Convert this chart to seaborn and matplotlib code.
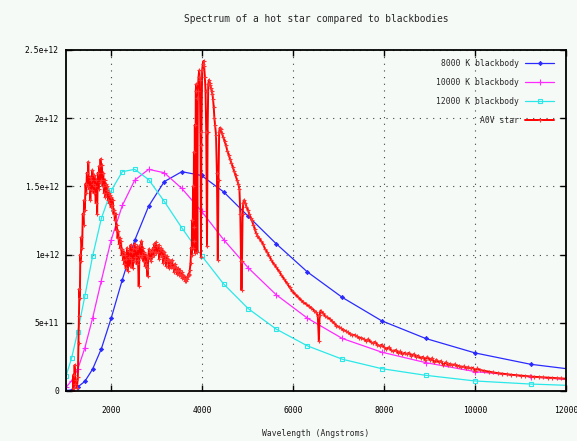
import numpy as np
import seaborn as sns
import matplotlib.pyplot as plt

# blackbody curves (sampled on a log grid), values in units of 1e12
bb_wave = [1000, 1122, 1259, 1413, 1585, 1778, 1995, 2239, 2512, 2818, 3162, 3548,
           3981, 4467, 5012, 5623, 6310, 7079, 7943, 8913, 10000, 11220, 12589]
bb_8000 = [0.002, 0.009, 0.03, 0.07, 0.16, 0.31, 0.535, 0.816, 1.105, 1.355, 1.535, 1.608,
           1.58, 1.46, 1.28, 1.08, 0.873, 0.686, 0.515, 0.385, 0.279, 0.196, 0.14]
bb_10000 = [0.027, 0.075, 0.16, 0.314, 0.534, 0.81, 1.11, 1.36, 1.546, 1.625, 1.60, 1.485,
            1.318, 1.11, 0.902, 0.706, 0.534, 0.385, 0.285, 0.208, 0.142, 0.105, 0.07]
bb_12000 = [0.11, 0.24, 0.436, 0.693, 0.988, 1.265, 1.47, 1.608, 1.625, 1.55, 1.39, 1.196,
            0.993, 0.785, 0.603, 0.454, 0.331, 0.233, 0.164, 0.115, 0.0735, 0.051, 0.035]

# A0V star spectrum, values in units of 1e12
star_wave = [1150, 1165, 1175, 1190, 1205, 1220, 1240, 1260, 1275, 1285, 1295, 1305, 1315, 1325,
             1340, 1355, 1370, 1385, 1400, 1415, 1430, 1445, 1460, 1475, 1490, 1505, 1520, 1535,
             1550, 1565, 1580, 1595, 1610, 1625, 1640, 1655, 1670, 1685, 1700, 1715, 1730, 1745,
             1760, 1775, 1790, 1805, 1820, 1835, 1850, 1865, 1880, 1895, 1910, 1925, 1940, 1955,
             1970, 1985, 2000, 2015, 2030, 2045, 2060, 2075, 2090, 2105, 2120, 2135, 2150, 2165,
             2180, 2195, 2210, 2225, 2240, 2255, 2270, 2285, 2300, 2315, 2330, 2345, 2360, 2375,
             2390, 2405, 2420, 2435, 2450, 2465, 2480, 2495, 2510, 2525, 2540, 2555, 2570, 2585,
             2600, 2615, 2630, 2645, 2660, 2675, 2690, 2705, 2720, 2735, 2750, 2765, 2780, 2795,
             2810, 2825, 2840, 2855, 2870, 2885, 2900, 2915, 2930, 2945, 2960, 2975, 2990, 3005,
             3020, 3035, 3050, 3065, 3080, 3095, 3110, 3125, 3140, 3155, 3170, 3185, 3200, 3215,
             3230, 3245, 3260, 3275, 3290, 3305, 3320, 3335, 3350, 3365, 3380, 3395, 3410, 3425,
             3440, 3455, 3470, 3485, 3500, 3515, 3530, 3545, 3560, 3575, 3590, 3605, 3620, 3635,
             3650, 3665, 3680, 3695, 3710, 3725, 3740, 3755, 3765, 3775, 3785, 3795, 3805, 3815,
             3825, 3835, 3845, 3855, 3865, 3875, 3889, 3900, 3915, 3930, 3945, 3960, 3970, 3980,
             3995, 4010, 4025, 4040, 4055, 4070, 4085, 4102, 4115, 4130, 4145, 4160, 4175, 4190,
             4205, 4220, 4235, 4250, 4265, 4280, 4300, 4320, 4340, 4355, 4370, 4385, 4400, 4430,
             4460, 4490, 4520, 4550, 4580, 4610, 4640, 4670, 4700, 4730, 4760, 4790, 4815, 4835,
             4850, 4861, 4872, 4885, 4900, 4920, 4945, 4970, 5000, 5030, 5060, 5090, 5120, 5150,
             5180, 5210, 5250, 5290, 5330, 5380, 5420, 5470, 5520, 5570, 5620, 5680, 5740, 5800,
             5860, 5920, 5980, 6040, 6100, 6160, 6220, 6280, 6340, 6400, 6460, 6500, 6540, 6563,
             6580, 6600, 6650, 6700, 6750, 6800, 6850, 6900, 6950, 7000, 7050, 7100, 7150, 7200,
             7250, 7300, 7350, 7400, 7450, 7500, 7550, 7600, 7650, 7700, 7750, 7800, 7850, 7900,
             7950, 8000, 8050, 8100, 8150, 8200, 8250, 8300, 8350, 8400, 8450, 8500, 8550, 8600,
             8650, 8700, 8750, 8800, 8850, 8900, 8950, 9000, 9050, 9100, 9150, 9200, 9250, 9300,
             9350, 9400, 9450, 9500, 9550, 9600, 9650, 9700, 9750, 9800, 9850, 9900, 9950, 10000,
             10050, 10100, 10200, 10300, 10400, 10500, 10600, 10700, 10800, 10900, 11000, 11100,
             11200, 11300, 11400, 11500, 11600, 11700, 11800, 11900, 12000]
star_flux = [0.0, 0.12, 0.02, 0.19, 0.05, 0.08, 0.02, 0.10, 0.35, 0.55, 0.75, 0.68, 1.00, 0.95,
             1.13, 1.05, 1.30, 1.22, 1.40, 1.33, 1.52, 1.45, 1.60, 1.50, 1.68, 1.48, 1.57, 1.40,
             1.55, 1.47, 1.62, 1.52, 1.45, 1.58, 1.50, 1.38, 1.55, 1.30, 1.60, 1.48, 1.65, 1.53,
             1.70, 1.55, 1.66, 1.50, 1.60, 1.45, 1.55, 1.42, 1.52, 1.47, 1.50, 1.40, 1.45, 1.38,
             1.44, 1.35, 1.42, 1.36, 1.40, 1.30, 1.33, 1.25, 1.30, 1.18, 1.22, 1.12, 1.17, 1.08,
             1.12, 1.05, 1.10, 1.00, 1.04, 0.96, 1.02, 0.93, 1.00, 0.90, 0.97, 1.05, 0.88, 0.98,
             1.03, 0.92, 1.07, 0.97, 1.02, 0.90, 1.05, 0.95, 1.08, 0.98, 1.04, 0.93, 1.06, 0.96,
             0.77, 1.00, 1.07, 0.98, 1.10, 1.00, 1.05, 0.95, 1.02, 0.92, 1.00, 0.93, 0.90, 0.84,
             0.98, 1.04, 0.97, 1.02, 0.95, 1.03, 0.98, 1.05, 1.00, 1.08, 1.02, 1.09, 1.01, 1.06,
             1.02, 1.07, 0.97, 1.04, 1.00, 1.05, 0.98, 1.03, 0.94, 1.02, 0.97, 1.00, 0.92, 0.99,
             0.95, 0.97, 0.90, 0.96, 0.93, 0.95, 0.91, 0.96, 0.90, 0.92, 0.87, 0.93, 0.89, 0.91,
             0.86, 0.90, 0.88, 0.85, 0.89, 0.86, 0.84, 0.87, 0.83, 0.85, 0.82, 0.84, 0.81, 0.83,
             0.81, 0.82, 0.84, 0.86, 0.85, 0.89, 0.94, 1.05, 1.00, 1.25, 1.05, 1.50, 1.10, 1.75,
             1.20, 1.95, 1.01, 2.20, 2.25, 2.15, 1.02, 2.20, 2.30, 2.35, 2.28, 1.80, 0.98, 1.90,
             2.35, 2.40, 2.42, 2.38, 2.30, 2.20, 1.90, 1.06, 1.90, 2.25, 2.28, 2.26, 2.24, 2.22,
             2.20, 2.18, 2.14, 2.08, 2.00, 1.95, 1.88, 1.60, 0.96, 1.55, 1.90, 1.93, 1.92, 1.89,
             1.86, 1.83, 1.80, 1.76, 1.73, 1.70, 1.67, 1.64, 1.61, 1.58, 1.55, 1.52, 1.48, 1.30,
             0.95, 0.74, 0.95, 1.30, 1.38, 1.40, 1.38, 1.35, 1.33, 1.30, 1.27, 1.25, 1.22, 1.19,
             1.16, 1.14, 1.12, 1.10, 1.08, 1.04, 1.02, 0.99, 0.96, 0.93, 0.91, 0.88, 0.85, 0.82,
             0.79, 0.76, 0.73, 0.71, 0.69, 0.67, 0.65, 0.64, 0.62, 0.61, 0.59, 0.58, 0.55, 0.37,
             0.56, 0.59, 0.57, 0.55, 0.54, 0.53, 0.51, 0.50, 0.48, 0.47, 0.46, 0.45, 0.44, 0.43,
             0.42, 0.41, 0.41, 0.40, 0.39, 0.39, 0.38, 0.37, 0.38, 0.36, 0.35, 0.36, 0.34, 0.33,
             0.34, 0.32, 0.31, 0.32, 0.30, 0.29, 0.30, 0.28, 0.29, 0.27, 0.28, 0.27, 0.28, 0.26,
             0.27, 0.25, 0.26, 0.24, 0.25, 0.23, 0.25, 0.23, 0.24, 0.21, 0.23, 0.21, 0.22, 0.19,
             0.21, 0.19, 0.20, 0.19, 0.195, 0.18, 0.185, 0.175, 0.18, 0.17, 0.175, 0.165, 0.17, 0.15,
             0.165, 0.155, 0.148, 0.142, 0.136, 0.131, 0.127, 0.123, 0.119, 0.116, 0.113, 0.110,
             0.107, 0.104, 0.102, 0.100, 0.098, 0.096, 0.094, 0.092, 0.090]

x_ticks = [2000, 4000, 6000, 8000, 10000, 12000]
y_ticks = [0, 0.5e12, 1.0e12, 1.5e12, 2.0e12, 2.5e12]
y_ticklabels = ['0', '5e+11', '1e+12', '1.5e+12', '2e+12', '2.5e+12']

sns.set_style('ticks')
plt.rcParams['font.family'] = ['DejaVu Sans Mono']
plt.rcParams['font.size'] = 5.8

bg = '#f6faf7'
fig = plt.figure(figsize=(5.77, 4.41), dpi=100, facecolor=bg)
ax = fig.add_axes([66/577, 50/441, 500/577, 341/441])
ax.set_facecolor(bg)

scale = 1e12
series = [
    (bb_wave, bb_8000, '#2a2aff', 'D', 2.2, 0.5, '8000 K blackbody'),
    (bb_wave, bb_10000, '#ff2aff', '+', 4.0, 0.8, '10000 K blackbody'),
    (bb_wave, bb_12000, '#2ae8e8', 's', 3.2, 0.8, '12000 K blackbody'),
]
for xs, ys, c, m, size, ew, lab in series:
    sns.lineplot(x=xs, y=np.array(ys) * scale, ax=ax, color=c, lw=0.9, marker=m, ms=size,
                 mew=ew, mec=c, mfc=('none' if m == 's' else c), estimator=None, label=lab)
sns.lineplot(x=star_wave, y=np.array(star_flux) * scale, ax=ax, color='#ff0000', lw=1.4,
             marker='+', ms=3.2, mew=0.8, mec='#ff3030', estimator=None, label='A0V star')

ax.set_xlim(1000, 12000)
ax.set_ylim(0, 2.5e12)
ax.set_xticks(x_ticks)
ax.set_yticks(y_ticks)
ax.set_yticklabels(y_ticklabels)
ax.grid(True, color='#404040', linestyle=(0, (1, 5)), linewidth=0.8)
ax.tick_params(direction='in', length=4, width=1, top=True, right=True, colors='black')
ax.tick_params(axis='x', pad=11)
ax.tick_params(axis='y', pad=5)
for s in ax.spines.values():
    s.set_linewidth(1.3)
    s.set_color('black')

ax.set_title('Spectrum of a hot star compared to blackbodies', pad=20)
ax.set_xlabel('Wavelength (Angstroms)', labelpad=10)
ax.set_ylabel('')

ax.legend(loc='upper right', bbox_to_anchor=(0.976, 0.975), frameon=False, markerfirst=False,
          handlelength=3.6, handletextpad=0.8, labelspacing=1.25, borderaxespad=0, borderpad=0)

fig.savefig('out.png', dpi=100, facecolor=bg)
